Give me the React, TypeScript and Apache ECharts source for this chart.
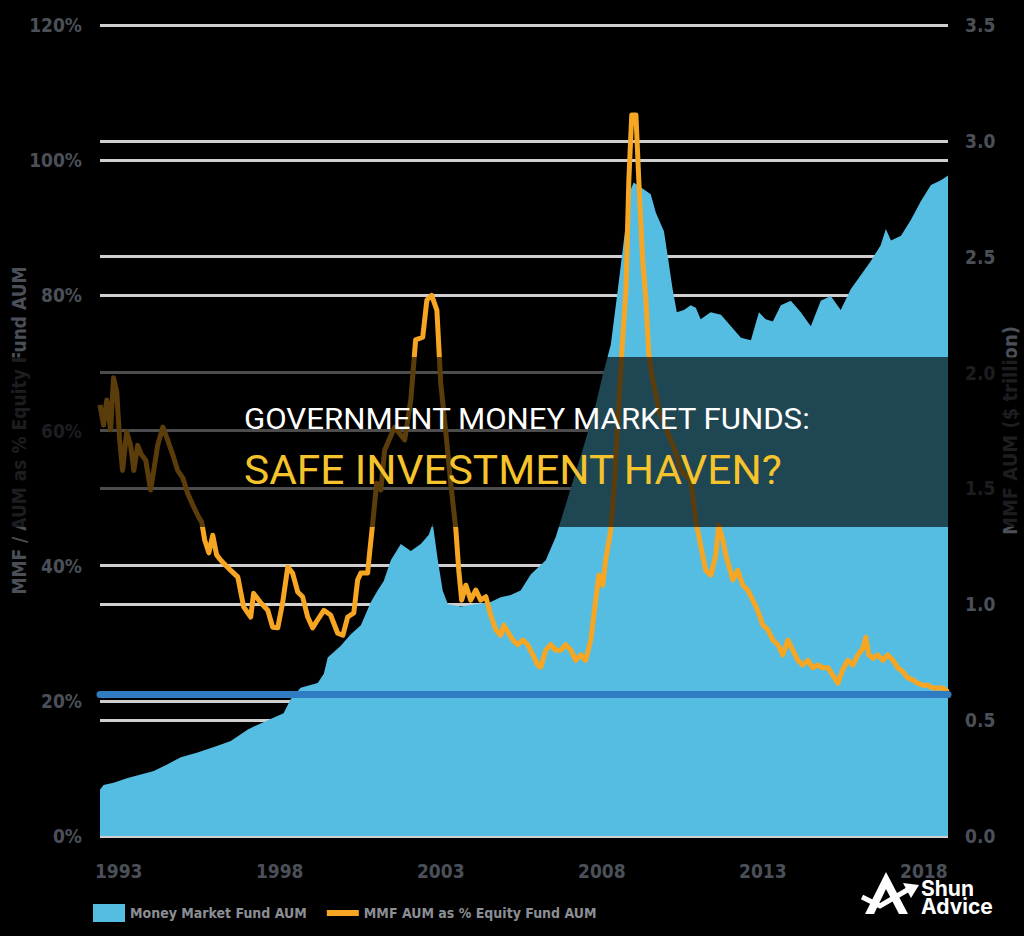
import React, { useEffect, useRef } from "react";
import * as echarts from "echarts";

const xTickYears = [1993, 1998, 2003, 2008, 2013, 2018];
const seriesNames = ["Money Market Fund AUM", "MMF AUM as % Equity Fund AUM"];
const leftAxisName = "MMF / AUM as % Equity Fund AUM";
const rightAxisName = "MMF AUM ($ trillion)";
const titleLine1 = "GOVERNMENT MONEY MARKET FUNDS:";
const titleLine2 = "SAFE INVESTMENT HAVEN?";
const brandLine1 = "Shun";
const brandLine2 = "Advice";

// Money market fund AUM ($ trillion), right axis
const mmfYears = [
  1992.42, 1992.53, 1992.84, 1993.28, 1994.09, 1994.52, 1994.93, 1995.45, 1996.07, 1996.48,
  1997.01, 1997.63, 1998.12, 1998.34, 1998.65, 1999.18, 1999.37, 1999.49, 1999.89, 2000.2,
  2000.52, 2000.83, 2001.04, 2001.23, 2001.45, 2001.76, 2002.07, 2002.38, 2002.63, 2002.75,
  2002.91, 2003.06, 2003.22, 2003.62, 2004.09, 2004.55, 2004.86, 2005.17, 2005.48, 2005.8,
  2006.26, 2006.57, 2006.88, 2007.19, 2007.5, 2007.81, 2008.03, 2008.28, 2008.5, 2008.72,
  2008.9, 2008.99, 2009.21, 2009.52, 2009.68, 2009.93, 2010.05, 2010.2, 2010.33, 2010.55,
  2010.76, 2010.92, 2011.07, 2011.38, 2011.7, 2012.01, 2012.32, 2012.63, 2012.88, 2013.09,
  2013.31, 2013.56, 2013.87, 2014.18, 2014.49, 2014.8, 2015.11, 2015.42, 2015.73, 2016.04,
  2016.35, 2016.66, 2016.82, 2016.98, 2017.29, 2017.6, 2017.91, 2018.22, 2018.53, 2018.75,
];
const mmfAum = [
  0.2, 0.22, 0.23, 0.25, 0.28, 0.31, 0.34, 0.36, 0.39, 0.41,
  0.46, 0.5, 0.53, 0.59, 0.64, 0.66, 0.7, 0.77, 0.82, 0.87,
  0.91, 1.01, 1.06, 1.1, 1.19, 1.26, 1.23, 1.26, 1.3, 1.35,
  1.19, 1.06, 1.0, 0.99, 1.0, 1.01, 1.03, 1.04, 1.06, 1.13,
  1.19, 1.29, 1.43, 1.57, 1.71, 1.86, 1.99, 2.12, 2.36, 2.61,
  2.79, 2.82, 2.8, 2.77, 2.69, 2.61, 2.5, 2.36, 2.26, 2.27,
  2.29, 2.28, 2.23, 2.26, 2.25, 2.2, 2.15, 2.14, 2.26, 2.23,
  2.22, 2.29, 2.31, 2.26, 2.2, 2.31, 2.33, 2.27, 2.36, 2.42,
  2.48, 2.55, 2.62, 2.57, 2.59, 2.66, 2.74, 2.81, 2.83, 2.85,
];

// MMF AUM as % of equity fund AUM, left axis
const pctYears = [
  1992.42, 1992.53, 1992.63, 1992.75, 1992.84, 1992.94, 1993.03, 1993.12, 1993.25, 1993.37,
  1993.47, 1993.59, 1993.71, 1993.84, 1993.99, 1994.09, 1994.21, 1994.37, 1994.52, 1994.68,
  1994.83, 1994.99, 1995.14, 1995.3, 1995.45, 1995.58, 1995.67, 1995.8, 1995.92, 1996.04,
  1996.17, 1996.48, 1996.7, 1996.88, 1997.1, 1997.19, 1997.41, 1997.63, 1997.78, 1997.94,
  1998.09, 1998.25, 1998.4, 1998.56, 1998.71, 1998.87, 1999.02, 1999.18, 1999.37, 1999.58,
  1999.8, 1999.96, 2000.11, 2000.3, 2000.42, 2000.52, 2000.73, 2000.8, 2000.89, 2001.01,
  2001.14, 2001.26, 2001.57, 2001.88, 2002.07, 2002.22, 2002.44, 2002.57, 2002.72, 2002.88,
  2003.0, 2003.16, 2003.31, 2003.47, 2003.56, 2003.65, 2003.78, 2003.93, 2004.09, 2004.24,
  2004.4, 2004.55, 2004.71, 2004.86, 2004.96, 2005.08, 2005.24, 2005.39, 2005.55, 2005.7,
  2005.86, 2006.01, 2006.11, 2006.26, 2006.42, 2006.57, 2006.73, 2006.88, 2007.04, 2007.19,
  2007.35, 2007.5, 2007.66, 2007.81, 2007.91, 2008.03, 2008.12, 2008.28, 2008.4, 2008.5,
  2008.62, 2008.75, 2008.84, 2008.93, 2009.06, 2009.15, 2009.27, 2009.37, 2009.46, 2009.58,
  2009.8, 2010.27, 2010.45, 2010.76, 2010.92, 2011.07, 2011.23, 2011.39, 2011.54, 2011.63,
  2011.76, 2011.85, 2011.94, 2012.07, 2012.22, 2012.38, 2012.53, 2012.69, 2012.84, 2013.0,
  2013.16, 2013.31, 2013.47, 2013.62, 2013.78, 2013.93, 2014.09, 2014.24, 2014.4, 2014.55,
  2014.71, 2014.86, 2015.02, 2015.17, 2015.33, 2015.48, 2015.64, 2015.8, 2015.95, 2016.11,
  2016.2, 2016.29, 2016.42, 2016.57, 2016.73, 2016.88, 2017.04, 2017.19, 2017.35, 2017.5,
  2017.66, 2017.81, 2017.97, 2018.12, 2018.28, 2018.43, 2018.59, 2018.75,
];
const pctValues = [
  63.8, 60.8, 64.5, 60.1, 67.8, 65.7, 58.6, 54.1, 59.8, 57.8,
  54.1, 57.8, 56.4, 55.6, 51.2, 54.1, 57.8, 60.5, 58.6, 56.4,
  54.1, 53.0, 50.7, 49.0, 47.5, 46.4, 43.8, 41.9, 44.5, 41.6,
  40.8, 39.3, 38.3, 33.9, 32.4, 35.9, 34.5, 33.4, 30.9, 30.8,
  34.5, 39.8, 38.9, 36.1, 35.4, 32.4, 30.8, 32.0, 33.4, 32.7,
  30.0, 29.7, 32.4, 33.0, 37.9, 38.9, 38.9, 42.3, 46.4, 52.2,
  51.2, 57.1, 60.5, 58.6, 64.5, 73.4, 73.8, 79.3, 80.0, 77.8,
  67.0, 59.6, 52.2, 45.3, 39.3, 34.9, 37.1, 34.9, 36.4, 34.9,
  35.4, 32.7, 30.5, 29.7, 31.2, 30.2, 29.0, 28.3, 29.0, 28.3,
  26.8, 25.3, 25.0, 27.5, 28.3, 27.5, 27.5, 28.3, 27.5, 26.0,
  26.8, 26.0, 29.0, 34.9, 38.6, 37.1, 40.8, 45.3, 52.7, 61.5,
  71.4, 80.8, 97.0, 106.7, 106.7, 97.0, 85.2, 79.3, 71.4, 67.5,
  62.6, 57.1, 54.1, 52.7, 46.7, 43.0, 39.3, 38.6, 41.6, 46.0,
  43.8, 41.6, 40.1, 37.9, 39.3, 37.1, 36.4, 34.9, 33.4, 31.2,
  30.5, 29.0, 28.3, 26.8, 29.0, 27.5, 26.0, 25.3, 26.0, 24.9,
  25.3, 24.9, 24.9, 23.8, 22.6, 24.6, 26.0, 25.3, 26.8, 27.8,
  29.4, 26.8, 26.3, 26.8, 26.0, 26.8, 26.0, 24.9, 24.3, 23.4,
  23.1, 22.6, 22.3, 22.3, 21.9, 21.9, 21.9, 21.3,
];

const referenceLevel = 0.61; // dark blue horizontal rule, $ trillion

const narrow = "'Liberation Sans Narrow', 'Arial Narrow', 'DejaVu Sans Condensed', sans-serif";
const labelColor = "#4b5058";

export default function App() {
  const ref = useRef<HTMLDivElement>(null);

  useEffect(() => {
    document.body.style.margin = "0";
    document.body.style.background = "#000";
    const chart = echarts.init(ref.current!, null, { renderer: "svg" });

    const mmfData = mmfYears.map((y, i) => [y, mmfAum[i]]);
    const pctData = pctYears.map((y, i) => [y, pctValues[i]]);

    const option: any = {
      animation: false,
      backgroundColor: "#000",
      grid: { left: 100, right: 76, top: 25, bottom: 100, outerBoundsMode: "none", containLabel: false },
      legend: {
        left: 88,
        top: 899,
        itemWidth: 32,
        itemHeight: 18,
        itemGap: 20,
        symbolKeepAspect: true,
        textStyle: { color: "#8b8f95", fontSize: 14, fontWeight: "bold", fontFamily: narrow },
        data: [
          { name: seriesNames[0], icon: "rect" },
          { name: seriesNames[1], icon: "path://M0,0L32,0L32,6L0,6Z" },
        ],
      },
      xAxis: {
        type: "value",
        min: 1992.42,
        max: 2018.75,
        axisLine: { show: false },
        axisTick: { show: false },
        splitLine: { show: false },
        axisLabel: {
          customValues: xTickYears,
          formatter: (v: number) => String(Math.round(v)),
          color: labelColor,
          fontSize: 19,
          fontWeight: "bold",
          fontFamily: narrow,
          margin: 25,
        },
      },
      yAxis: [
        {
          type: "value",
          min: 0,
          max: 120,
          interval: 20,
          name: leftAxisName,
          nameLocation: "middle",
          nameGap: 72,
          nameMoveOverlap: false,
          nameTextStyle: { color: labelColor, fontSize: 19, fontWeight: "bold", fontFamily: narrow },
          axisLine: { show: false },
          axisTick: { show: false },
          axisLabel: {
            formatter: "{value}%",
            color: labelColor,
            fontSize: 19,
            fontWeight: "bold",
            fontFamily: narrow,
            margin: 18,
          },
          splitLine: { show: true, lineStyle: { color: "#cfcfcf", width: 3 } },
        },
        {
          type: "value",
          min: 0,
          max: 3.5,
          interval: 0.5,
          name: rightAxisName,
          nameLocation: "middle",
          nameGap: 52,
          nameMoveOverlap: false,
          nameTextStyle: { color: labelColor, fontSize: 20, fontWeight: "bold", fontFamily: narrow },
          axisLine: { show: false },
          axisTick: { show: false },
          axisLabel: {
            formatter: (v: number) => v.toFixed(1),
            color: labelColor,
            fontSize: 19,
            fontWeight: "bold",
            fontFamily: narrow,
            margin: 17,
          },
          splitLine: { show: true, lineStyle: { color: "#cfcfcf", width: 3 } },
        },
      ],
      series: [
        {
          name: seriesNames[0],
          type: "line",
          yAxisIndex: 1,
          data: mmfData,
          showSymbol: false,
          symbol: "none",
          color: "#56bde2",
          lineStyle: { width: 0, color: "#56bde2" },
          areaStyle: { color: "#56bde2", opacity: 1 },
          z: 2,
          markLine: {
            silent: true,
            symbol: "none",
            label: { show: false },
            lineStyle: { color: "#2f7cc3", width: 7, type: "solid", cap: "round" },
            data: [{ yAxis: referenceLevel }],
          },
        },
        {
          name: seriesNames[1],
          type: "line",
          yAxisIndex: 0,
          data: pctData,
          showSymbol: false,
          symbol: "none",
          color: "#f6a623",
          lineStyle: { width: 5, color: "#f6a623", join: "round" },
          z: 3,
        },
      ],
      graphic: [
        {
          type: "rect",
          shape: { x: 0, y: 357, width: 1024, height: 170 },
          style: { fill: "rgba(0,0,0,0.63)" },
          z: 100,
        },
        {
          type: "text",
          x: 244,
          y: 419,
          scaleX: 1.04,
          z: 101,
          style: {
            text: titleLine1,
            fill: "#ffffff",
            fontSize: 30,
            fontFamily: "Roboto, 'Noto Sans', sans-serif",
            verticalAlign: "middle",
            align: "left",
          },
        },
        {
          type: "text",
          x: 244,
          y: 470,
          scaleX: 1.06,
          z: 101,
          style: {
            text: titleLine2,
            fill: "#f5c32c",
            fontSize: 40,
            fontFamily: "Roboto, 'Noto Sans', sans-serif",
            verticalAlign: "middle",
            align: "left",
          },
        },
        {
          type: "polygon",
          z: 102,
          shape: { points: [[865, 914], [886, 872], [908, 914], [899, 914], [886, 889], [874, 914]] },
          style: { fill: "#ffffff" },
        },
        {
          type: "polyline",
          z: 102,
          shape: { points: [[862, 897], [880, 906], [909, 889]] },
          style: { stroke: "#ffffff", lineWidth: 5, fill: "none" },
        },
        {
          type: "polygon",
          z: 102,
          shape: { points: [[903, 883], [919, 885], [911, 898]] },
          style: { fill: "#ffffff" },
        },
        {
          type: "text",
          x: 921,
          y: 888,
          z: 102,
          style: {
            text: brandLine1,
            fill: "#ffffff",
            fontSize: 21,
            fontWeight: "bold",
            fontFamily: "Inter, 'Open Sans', sans-serif",
            verticalAlign: "middle",
          },
        },
        {
          type: "text",
          x: 921,
          y: 906,
          z: 102,
          style: {
            text: brandLine2,
            fill: "#ffffff",
            fontSize: 21,
            fontWeight: "bold",
            fontFamily: "Inter, 'Open Sans', sans-serif",
            verticalAlign: "middle",
          },
        },
      ],
    };

    chart.setOption(option);
    return () => chart.dispose();
  }, []);

  return <div ref={ref} style={{ width: 1024, height: 936, background: "#000" }} />;
}
